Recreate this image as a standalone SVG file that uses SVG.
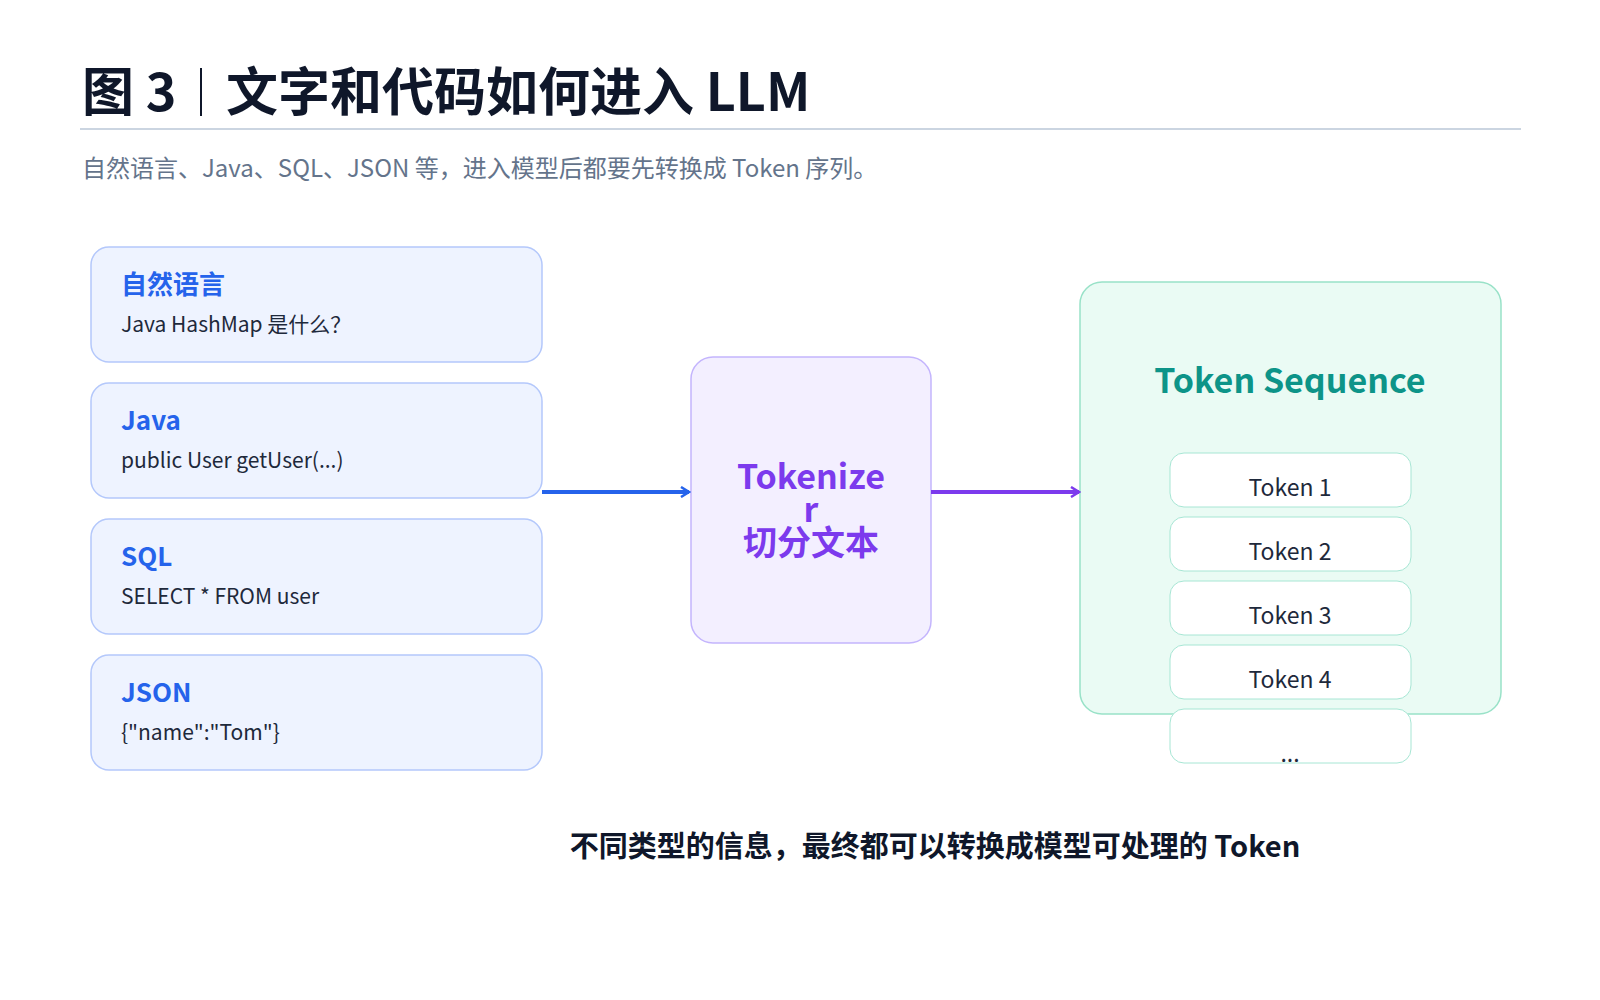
<svg xmlns="http://www.w3.org/2000/svg" width="1600" height="1000" viewBox="0 0 1600 1000">
<style>
text{font-family:"Noto Sans CJK SC","Noto Sans",sans-serif}
.src rect{fill:#eef3ff;stroke:#b4c8fb;stroke-width:1.5}
.h{font-size:26px;font-weight:700;fill:#2563eb}
.b{font-size:21px;fill:#1e293b}
.tok rect{fill:#fff;stroke:#a7e6d4;stroke-width:1}
.tok text{font-size:23px;fill:#1e293b;text-anchor:middle}
</style>
<defs>
<marker id="ab" viewBox="0 0 12 12" refX="10" refY="6" markerWidth="12" markerHeight="12" markerUnits="userSpaceOnUse" orient="auto"><path d="M2,1 L10,6 L2,11" fill="none" stroke="#2563eb" stroke-width="2.5"/></marker>
<marker id="ap" viewBox="0 0 12 12" refX="10" refY="6" markerWidth="12" markerHeight="12" markerUnits="userSpaceOnUse" orient="auto"><path d="M2,1 L10,6 L2,11" fill="none" stroke="#7c3aed" stroke-width="2.5"/></marker>
</defs>
<rect width="1600" height="1000" fill="#fff"/>
<text x="82" y="111" font-size="52" font-weight="700" fill="#0f172a">图 3</text>
<line x1="201" y1="68" x2="201" y2="116" stroke="#0f172a" stroke-width="2"/>
<text x="226" y="111" font-size="52" font-weight="700" fill="#0f172a">文字和代码如何进入 LLM</text>
<line x1="80" y1="129" x2="1521" y2="129" stroke="#cbd5e1" stroke-width="2"/>
<text x="82" y="177" font-size="24" fill="#64748b">自然语言、Java、SQL、JSON 等，进入模型后都要先转换成 Token 序列。</text>
<g id="n-nl" class="src"><rect x="91" y="247" width="451" height="115" rx="18"/><text x="121" y="294" class="h">自然语言</text><text x="121" y="332" class="b">Java HashMap 是什么？</text></g>
<g id="n-java" class="src"><rect x="91" y="383" width="451" height="115" rx="18"/><text x="121" y="430" class="h">Java</text><text x="121" y="468" class="b">public User getUser(...)</text></g>
<g id="n-sql" class="src"><rect x="91" y="519" width="451" height="115" rx="18"/><text x="121" y="566" class="h">SQL</text><text x="121" y="604" class="b">SELECT * FROM user</text></g>
<g id="n-json" class="src"><rect x="91" y="655" width="451" height="115" rx="18"/><text x="121" y="702" class="h">JSON</text><text x="121" y="740" class="b">{"name":"Tom"}</text></g>
<g id="n-tokenizer"><rect x="691" y="357" width="240" height="286" rx="22" fill="#f3efff" stroke="#c4b5fd" stroke-width="1.5"/>
<text x="811" y="489" font-size="34" font-weight="700" fill="#7c3aed" text-anchor="middle">Tokenize</text>
<text x="811" y="522" font-size="34" font-weight="700" fill="#7c3aed" text-anchor="middle">r</text>
<text x="811" y="555" font-size="34" font-weight="700" fill="#7c3aed" text-anchor="middle">切分文本</text></g>
<g id="n-seq"><rect x="1080" y="282" width="421" height="432" rx="22" fill="#eafbf4" stroke="#99e2c8" stroke-width="1.5"/>
<text x="1290" y="393" font-size="34" font-weight="700" fill="#0d9488" text-anchor="middle">Token Sequence</text></g>
<g id="n-tokens" class="tok">
<rect x="1170" y="453" width="241" height="54" rx="14"/><text x="1290" y="496">Token 1</text>
<rect x="1170" y="517" width="241" height="54" rx="14"/><text x="1290" y="560">Token 2</text>
<rect x="1170" y="581" width="241" height="54" rx="14"/><text x="1290" y="624">Token 3</text>
<rect x="1170" y="645" width="241" height="54" rx="14"/><text x="1290" y="688">Token 4</text>
<rect x="1170" y="709" width="241" height="54" rx="14"/><text x="1290" y="762">...</text>
</g>
<g id="connectors" fill="none" stroke-width="4">
<line x1="542" y1="492" x2="689" y2="492" stroke="#2563eb" marker-end="url(#ab)"/>
<line x1="931" y1="492" x2="1079" y2="492" stroke="#7c3aed" marker-end="url(#ap)"/>
</g>
<text x="935" y="857" font-size="29" font-weight="700" fill="#0f172a" text-anchor="middle">不同类型的信息，最终都可以转换成模型可处理的 Token</text>
</svg>
